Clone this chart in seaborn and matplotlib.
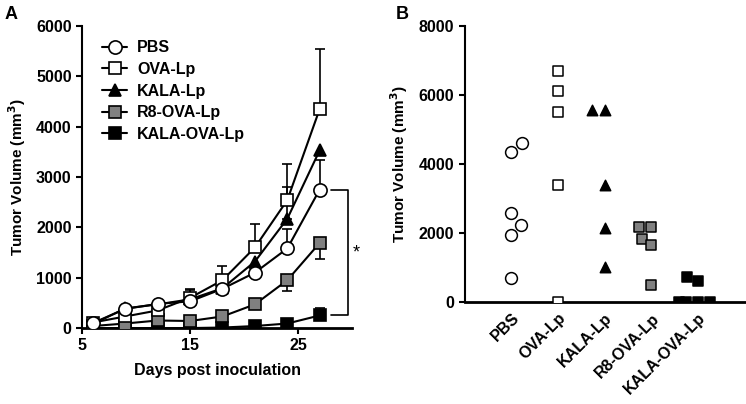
import numpy as np
import pandas as pd
import matplotlib
matplotlib.use("Agg")
import matplotlib.pyplot as plt
import seaborn as sns

sns.set_style("ticks")
plt.rcParams['font.family'] = ['Liberation Sans', 'DejaVu Sans']
plt.rcParams['font.weight'] = 'bold'
for k in ['text.color', 'axes.labelcolor', 'xtick.color', 'ytick.color', 'axes.edgecolor']:
    plt.rcParams[k] = 'black'

# ---- panel A data: mean tumor volume over time ----
days = [6, 9, 12, 15, 18, 21, 24, 27]
groups = ["PBS", "OVA-Lp", "KALA-Lp", "R8-OVA-Lp", "KALA-OVA-Lp"]

pbs_mean = [100, 380, 480, 530, 780, 1100, 1580, 2750]
pbs_err = [0, 0, 0, 220, 0, 0, 390, 580]
ova_mean = [110, 230, 350, 600, 950, 1600, 2540, 4350]
ova_err = [0, 0, 0, 180, 280, 460, 710, 1200]
kala_mean = [80, 390, 470, 570, 790, 1320, 2170, 3530]
kala_err = [0, 0, 0, 0, 0, 0, 630, 0]
r8_mean = [40, 90, 150, 140, 230, 470, 950, 1690]
r8_err = [0, 0, 0, 0, 0, 0, 210, 320]          # drawn downward
kalaova_mean = [0, 0, 0, 0, 10, 40, 90, 250]
kalaova_err = [0, 0, 0, 0, 0, 0, 0, 150]

# ---- panel B data: individual tumor volumes ----
pbs_ind = [4620, 4360, 2600, 2230, 1940, 700]
ova_ind = [6700, 6120, 5500, 3390, 0]
kala_ind = [5570, 5570, 3400, 2140, 1020]
r8_ind = [2190, 2190, 1840, 1650, 510]
kalaova_ind = [610, 720, 0, 0, 0, 0]

gray = "#808080"
styles = {
    "PBS": dict(marker="o", fc="white", ms=9.5),
    "OVA-Lp": dict(marker="s", fc="white", ms=8),
    "KALA-Lp": dict(marker="^", fc="black", ms=8.5),
    "R8-OVA-Lp": dict(marker="s", fc=gray, ms=8),
    "KALA-OVA-Lp": dict(marker="s", fc="black", ms=8),
}

means = {"PBS": pbs_mean, "OVA-Lp": ova_mean, "KALA-Lp": kala_mean,
         "R8-OVA-Lp": r8_mean, "KALA-OVA-Lp": kalaova_mean}
errs = {"PBS": pbs_err, "OVA-Lp": ova_err, "KALA-Lp": kala_err,
        "R8-OVA-Lp": r8_err, "KALA-OVA-Lp": kalaova_err}
indiv = {"PBS": pbs_ind, "OVA-Lp": ova_ind, "KALA-Lp": kala_ind,
         "R8-OVA-Lp": r8_ind, "KALA-OVA-Lp": kalaova_ind}

fs = 11.5

fig = plt.figure(figsize=(7.46, 4.04), dpi=100)
axA = fig.add_axes([0.110, 0.188, 0.362, 0.748])
axB = fig.add_axes([0.623, 0.252, 0.375, 0.683])

# ---- panel A ----
# draw in reverse so open markers sit on top of the filled ones
for g in groups[::-1]:
    st = styles[g]
    m = np.array(means[g])
    e = np.array(errs[g])
    if g == "R8-OVA-Lp":
        yerr = [e, np.zeros_like(e)]
    else:
        yerr = [np.zeros_like(e), e]
    mask = e > 0
    axA.errorbar(np.array(days)[mask], m[mask], yerr=[yerr[0][mask], yerr[1][mask]],
                 fmt="none", ecolor="black", elinewidth=1.2, capsize=3.5, capthick=1.2, zorder=2)
    sns.lineplot(x=days, y=m, ax=axA, color="black", linewidth=1.5, label=g,
                 marker=st["marker"], markersize=st["ms"], markerfacecolor=st["fc"],
                 markeredgecolor="black", markeredgewidth=1.2, zorder=3)

axA.set_xlim(5, 30)
axA.set_ylim(0, 6000)
axA.set_xticks([5, 15, 25])
axA.set_yticks(range(0, 6001, 1000))
axA.set_xlabel("Days post inoculation", fontsize=fs, fontweight="bold", labelpad=7)
axA.set_ylabel("Tumor Volume (mm$^\\mathbf{3}$)", fontsize=fs - 0.5, fontweight="bold", labelpad=6)
axA.tick_params(labelsize=fs, width=1.5, length=4)
for lab in axA.get_xticklabels() + axA.get_yticklabels():
    lab.set_fontweight("bold")
sns.despine(ax=axA)
axA.spines["left"].set_linewidth(1.5)
axA.spines["bottom"].set_linewidth(2)

handles, labels = axA.get_legend_handles_labels()
order = [labels.index(g) for g in groups]
axA.legend([handles[i] for i in order], [labels[i] for i in order],
           loc="upper left", bbox_to_anchor=(0.02, 1.0), frameon=False,
           prop=dict(size=fs, weight="bold"), handlelength=1.6,
           labelspacing=0.42, handletextpad=0.6)

# significance bracket between PBS and KALA-OVA-Lp at day 27
top = pbs_mean[-1]
bot = kalaova_mean[-1]
axA.plot([28.0, 29.6, 29.6, 28.0], [top, top, bot, bot], color="black", lw=1.2, clip_on=False)
axA.text(30.4, (top + bot) / 2, "*", ha="center", va="center", fontsize=13,
         fontweight="normal", clip_on=False)

fig.text(0.006, 0.985, "A", fontsize=13, fontweight="bold", va="top")
fig.text(0.530, 0.985, "B", fontsize=13, fontweight="bold", va="top")

# ---- panel B ----
for g in groups:
    st = styles[g]
    df = pd.DataFrame({"group": g, "vol": indiv[g]})
    sns.swarmplot(data=df, x="group", y="vol", order=groups, ax=axB,
                  marker=st["marker"], color=st["fc"], edgecolor="black",
                  linewidth=1.1, size=st["ms"] - 1, zorder=3)

axB.set_xlim(-1, 5)
axB.set_ylim(0, 8000)
axB.set_yticks(range(0, 8001, 2000))
axB.set_xlabel("")
axB.set_ylabel("Tumor Volume (mm$^\\mathbf{3}$)", fontsize=fs - 0.5, fontweight="bold", labelpad=6)
axB.tick_params(axis="y", labelsize=fs, width=1.5, length=4)
axB.tick_params(axis="x", labelsize=fs, length=0, pad=6)
axB.set_xticks(range(len(groups)))
axB.set_xticklabels(groups, rotation=45, ha="right", rotation_mode="anchor", fontweight="bold")
for lab in axB.get_yticklabels():
    lab.set_fontweight("bold")
sns.despine(ax=axB)
axB.spines["left"].set_linewidth(1.5)
axB.spines["bottom"].set_linewidth(2)

fig.savefig("out.png", dpi=100)
